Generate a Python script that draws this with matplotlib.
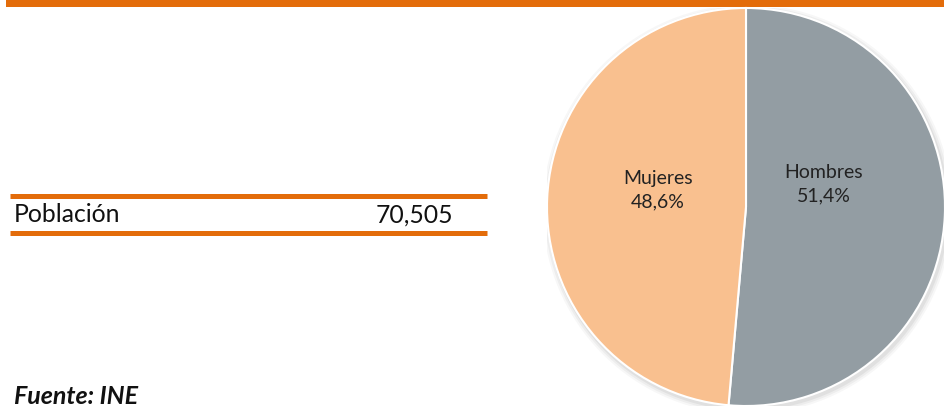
import matplotlib
matplotlib.use("Agg")
import matplotlib.pyplot as plt
from matplotlib.patches import Circle

plt.rcParams['font.family'] = ['Lato', 'DejaVu Sans']

# Data
sexes = ["Hombres", "Mujeres"]
shares = [51.4, 48.6]
pie_colors = ["#939DA3", "#F9C08F"]
table_label = "Población"
table_value = "70,505"
source = "Fuente: INE"

ORANGE = "#E36C0A"
W, H = 945, 409

fig = plt.figure(figsize=(W / 100, H / 100), dpi=100)

# Background axes in pixel coordinates (y down)
bg = fig.add_axes([0, 0, 1, 1])
bg.set_xlim(0, W)
bg.set_ylim(H, 0)
bg.axis("off")

# Top orange band
bg.fill_between([6, W], 0, 7, color=ORANGE, lw=0)

# Table lines
bg.plot([10, 487], [196, 196], color=ORANGE, lw=3.6, solid_capstyle="butt")
bg.plot([10, 487], [232.5, 232.5], color=ORANGE, lw=3.6, solid_capstyle="butt")
bg.text(14, 215, table_label, fontsize=17.8, va="center", ha="left", color="#111111")
bg.text(453, 215, table_value, fontsize=17.8, va="center", ha="right", color="#111111")

bg.text(14, 396, source, fontsize=18, fontweight="bold", fontstyle="italic",
        va="center", ha="left", color="#111111")

# Pie axes
cx, cy, r = 746, 207, 199
pax = fig.add_axes([(cx - r) / W, (H - cy - r) / H, 2 * r / W, 2 * r / H])
pax.axis("off")

# soft shadow
for i, a in enumerate([0.03, 0.04, 0.05]):
    pax.add_patch(Circle((0.008, -0.012), 1.0 + 0.01 * (3 - i), color="black",
                         alpha=a, lw=0, zorder=0))

wedges, _ = pax.pie(shares, colors=pie_colors, startangle=90, counterclock=False,
                    radius=1.0,
                    wedgeprops=dict(edgecolor="white", linewidth=1.5))
pax.set_xlim(-1.0, 1.0)
pax.set_ylim(-1.0, 1.0)
pax.set_aspect("auto")

def to_pie(px, py):
    return ((px - cx) / r, (cy - py) / r)

label_pos = {"Hombres": (824, 184), "Mujeres": (658, 190)}
for name, val in zip(sexes, shares):
    x, y = to_pie(*label_pos[name])
    txt = f"{name}\n{val:.1f}%".replace(".", ",")
    pax.text(x, y, txt, ha="center", va="center", fontsize=14,
             color="#222222", linespacing=1.45)

fig.savefig("out.png", dpi=100)
